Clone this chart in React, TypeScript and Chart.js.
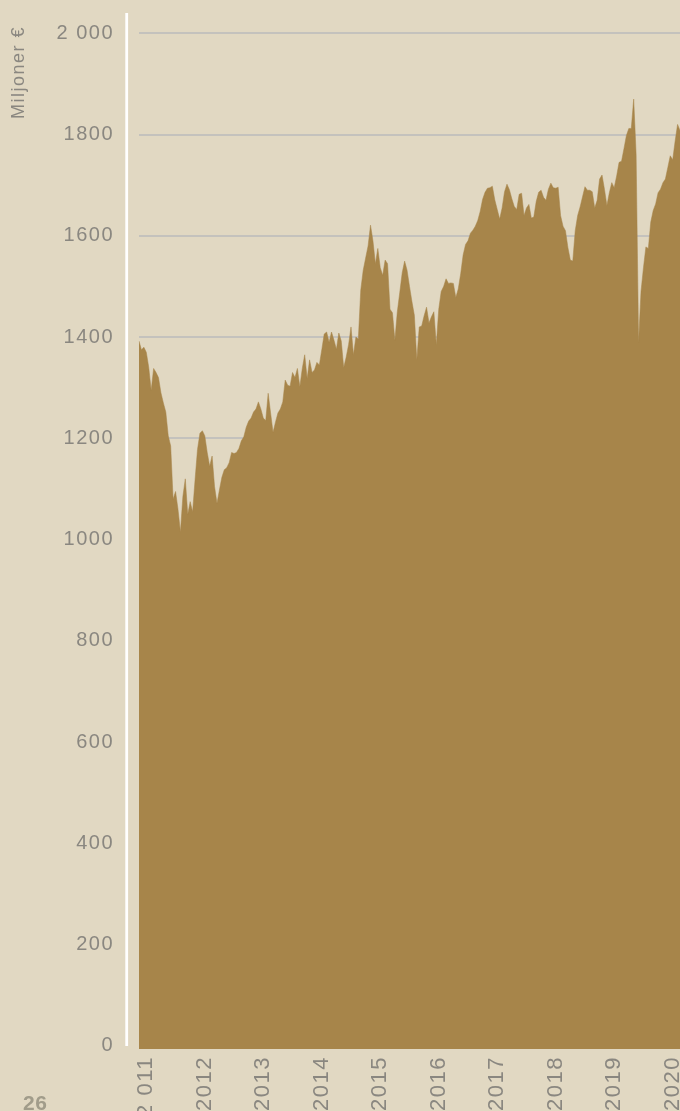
import React, { useEffect, useRef } from 'react';
import { Chart, registerables } from 'chart.js';

Chart.register(...registerables);

// Half-month series, starting with the second half of November 2010
const startHalfMonth = 2010 * 24 + 21;

// Fund value, millions of euro
const fundValues = [
  1392, 1375, 1380, 1370, 1340, 1295, 1338, 1330, 1320, 1290,
  1270, 1252, 1205, 1185, 1080, 1095, 1060, 1015, 1085, 1120,
  1050, 1075, 1055, 1118, 1178, 1210, 1215, 1205, 1172, 1145,
  1165, 1105, 1072, 1098, 1123, 1138, 1142, 1152, 1172, 1170,
  1172, 1180, 1195, 1203, 1222, 1234, 1240, 1252, 1258, 1272,
  1258, 1240, 1235, 1289, 1250, 1212, 1232, 1250, 1258, 1272,
  1315, 1305, 1303, 1330, 1320, 1338, 1302, 1338, 1365, 1318,
  1355, 1330, 1335, 1350, 1345, 1375, 1406, 1410, 1390, 1410,
  1394, 1376, 1408, 1392, 1340, 1360, 1385, 1420, 1365, 1400,
  1396, 1493, 1532, 1556, 1580, 1621, 1590, 1545, 1575, 1537,
  1522, 1552, 1545, 1455, 1448, 1394, 1450, 1488, 1527, 1550,
  1532, 1500, 1470, 1443, 1355, 1420, 1422, 1442, 1459, 1428,
  1440, 1450, 1385, 1455, 1490, 1500, 1515, 1506, 1507, 1506,
  1478, 1495, 1525, 1562, 1583, 1590, 1605, 1611, 1619, 1630,
  1648, 1672, 1686, 1694, 1695, 1698, 1671, 1652, 1633, 1655,
  1687, 1702, 1691, 1673, 1658, 1652, 1682, 1684, 1640, 1655,
  1662, 1635, 1637, 1668, 1686, 1690, 1676, 1670, 1692, 1704,
  1695, 1694, 1696, 1640, 1619, 1610, 1577, 1552, 1550, 1610,
  1640, 1657, 1677, 1697, 1690, 1690, 1687, 1655, 1670, 1712,
  1720, 1692, 1660, 1685, 1705, 1695, 1718, 1745, 1747, 1772,
  1798, 1812, 1812, 1870, 1760, 1390, 1490, 1537, 1578, 1575,
  1627, 1650, 1663, 1685, 1692, 1705, 1712, 1735, 1758, 1750,
  1787, 1820, 1808,
];

const yearTickYears = [2011, 2012, 2013, 2014, 2015, 2016, 2017, 2018, 2019, 2020];
const yearTickLabels = ['2 011', '2012', '2013', '2014', '2015', '2016', '2017', '2018', '2019', '2020'];

const yTickValues = [0, 200, 400, 600, 800, 1000, 1200, 1400, 1600, 1800, 2000];
const yTickLabels = ['0', '200', '400', '600', '800', '1000', '1200', '1400', '1600', '1800', '2 000'];

const yAxisTitle = 'Miljoner €';
const pageNumber = '26';

const BG = '#e1d8c2';
const AREA = '#a7854a';
const GRID = '#c4c2bd';
const TEXT = '#8a8780';
const FONT = "'Liberation Sans', Arial, Helvetica, sans-serif";

export default function App() {
  const canvasRef = useRef<HTMLCanvasElement | null>(null);

  useEffect(() => {
    document.body.style.margin = '0';
    document.body.style.background = BG;
    const canvas = canvasRef.current;
    if (!canvas) return;

    const xLabels = fundValues.map((_, i) => {
      const h = startHalfMonth + i;
      const y = Math.floor(h / 24);
      const m = Math.floor((h % 24) / 2) + 1;
      return `${y}-${m}${h % 2 ? 'b' : 'a'}`;
    });
    const yearTickIndex = yearTickYears.map((y) => y * 24 - startHalfMonth);

    const axisLinePlugin = {
      id: 'axisLine',
      beforeDraw(chart: any) {
        chart.ctx.letterSpacing = '1.5px';
      },
      afterDraw(chart: any) {
        const { ctx, chartArea, scales } = chart;
        const x = chartArea.left - 12.3;
        ctx.save();
        ctx.strokeStyle = '#ffffff';
        ctx.lineWidth = 2.8;
        ctx.beginPath();
        ctx.moveTo(x, chartArea.top);
        ctx.lineTo(x, scales.y.getPixelForValue(0));
        ctx.stroke();
        ctx.restore();
      },
    };

    const chart = new Chart(canvas, {
      type: 'line',
      data: {
        labels: xLabels,
        datasets: [
          {
            data: fundValues,
            backgroundColor: AREA,
            borderColor: AREA,
            borderWidth: 0.5,
            pointRadius: 0,
            fill: 'start',
            tension: 0,
          },
        ],
      },
      options: {
        responsive: false,
        animation: false,
        layout: { padding: { top: 13, left: 0, right: 0, bottom: 0 } },
        plugins: {
          legend: { display: false },
          tooltip: { enabled: false },
        },
        scales: {
          x: {
            type: 'category',
            offset: false,
            grid: { display: false, drawTicks: false },
            border: { display: false },
            ticks: {
              autoSkip: false,
              maxRotation: 90,
              minRotation: 90,
              padding: 7,
              color: TEXT,
              font: { family: FONT, size: 22 },
              callback: (value: any) => {
                const k = yearTickIndex.indexOf(Number(value));
                return k >= 0 ? yearTickLabels[k] : '';
              },
            },
            afterBuildTicks: (scale: any) => {
              scale.ticks = yearTickIndex.map((v) => ({ value: v }));
            },
            afterFit: (scale: any) => {
              scale.height = 62;
              scale.paddingLeft = 0;
              scale.paddingRight = 0;
            },
          },
          y: {
            min: -6,
            max: 2040,
            grid: { color: GRID, lineWidth: 2, drawTicks: false },
            border: { display: false },
            title: {
              display: true,
              text: yAxisTitle + '\u00A0\u00A0',
              align: 'end',
              color: TEXT,
              font: { family: FONT, size: 18 },
              padding: { top: 8, bottom: 0 },
            },
            ticks: {
              padding: 25,
              color: TEXT,
              font: { family: FONT, size: 20 },
              callback: (value: any) => {
                const k = yTickValues.indexOf(Number(value));
                return k >= 0 ? yTickLabels[k] : '';
              },
            },
            afterBuildTicks: (scale: any) => {
              scale.ticks = yTickValues.map((v) => ({ value: v }));
            },
            afterFit: (scale: any) => {
              scale.width = 139;
              scale.paddingTop = 0;
              scale.paddingBottom = 0;
            },
          },
        },
      },
      plugins: [axisLinePlugin],
    });

    return () => chart.destroy();
  }, []);

  return (
    <div style={{ position: 'relative', width: 680, height: 1111, background: BG, overflow: 'hidden' }}>
      <canvas ref={canvasRef} width={680} height={1111} style={{ display: 'block' }} />
      <div
        style={{
          position: 'absolute',
          left: 23,
          top: 1092,
          fontFamily: FONT,
          fontWeight: 'bold',
          fontSize: 21,
          lineHeight: 1,
          color: '#a19c8a',
          letterSpacing: '0.5px',
        }}
      >
        {pageNumber}
      </div>
    </div>
  );
}
